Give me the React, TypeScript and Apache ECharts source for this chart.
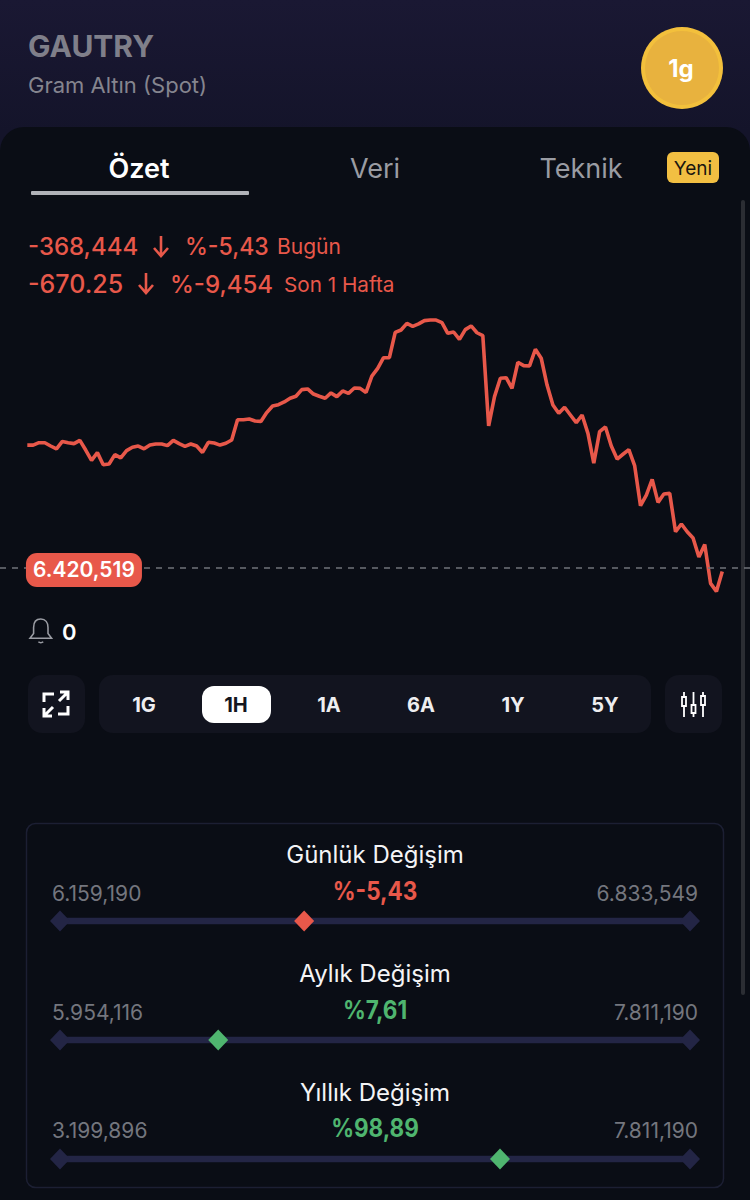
import { useEffect, useRef } from 'react'
import * as echarts from 'echarts'

// fiyat serisi, TL (son 1 hafta)
const prices = [
  7090, 7090, 7103, 7103, 7085, 7069, 7110, 7103, 7098, 7116,
  7063, 7007, 7049, 6983, 6987, 7038, 7020, 7060, 7078, 7085,
  7070, 7090, 7096, 7096, 7087, 7116, 7098, 7083, 7096, 7085,
  7050, 7105, 7101, 7090, 7100, 7118, 7228, 7228, 7232, 7221,
  7219, 7267, 7303, 7310, 7325, 7345, 7356, 7392, 7396, 7368,
  7356, 7345, 7374, 7354, 7385, 7372, 7401, 7399, 7377, 7466,
  7508, 7566, 7566, 7704, 7717, 7753, 7737, 7750, 7768, 7771,
  7771, 7757, 7699, 7706, 7666, 7719, 7739, 7702, 7686, 7195,
  7354, 7454, 7457, 7399, 7541, 7523, 7521, 7612, 7563, 7417,
  7308, 7263, 7296, 7254, 7212, 7254, 7154, 6991, 7163, 7189,
  7085, 7014, 7040, 7065, 6978, 6760, 6818, 6903, 6778, 6824,
  6827, 6618, 6660, 6618, 6584, 6480, 6549, 6337, 6293, 6402,
]
const lastPrice = 6420.519
const lastPriceLabel = '6.420,519'

const periods = ['1G', '1H', '1A', '6A', '1Y', '5Y']
const periodCenters = [144, 236, 329, 421, 513, 605]

const rangeTitles = ['Günlük Değişim', 'Aylık Değişim', 'Yıllık Değişim']
const rangeLows = [6159.19, 5954.116, 3199.896]
const rangeHighs = [6833.549, 7811.19, 7811.19]
const rangeLowLabels = ['6.159,190', '5.954,116', '3.199,896']
const rangeHighLabels = ['6.833,549', '7.811,190', '7.811,190']
const rangeChanges = ['%-5,43', '%7,61', '%98,89']

const RED = '#e8584a'
const GREEN = '#4fb56f'
const FONT = 'Inter'

const iconPaths: Record<string, string> = {
  bellIcon: 'M12 2C8 2 6 5 6 9V14L3 18H21L18 14V9C18 5 16 2 12 2ZM10 21C11 22 13 22 14 21',
  expandIcon: 'M2 12V4H12M26 2L17 11M18 2H26V10M2 26L11 17M2 18V26H10M26 16V24H16',
  slidersIcon: 'M3 0V5M1 5H5V14H1ZM3 14V25M12.5 0V13M10.5 13H14.5V21H10.5ZM12.5 21V25M22 0V4M20 4H24V13H20ZM22 13V25',
  arrowIcon: 'M8 0V20M1 12L8 20L15 12',
}
Object.keys(iconPaths).forEach((name) => {
  echarts.graphic.registerShape(name, (echarts.graphic as any).extendPath(iconPaths[name], {}))
})

const text = (
  x: number,
  y: number,
  value: string,
  size: number,
  fill: string,
  weight = 400,
  align = 'left',
  scaleX = 1,
) => ({
  type: 'text',
  x,
  y,
  scaleX,
  style: { text: value, fontFamily: FONT, fontSize: size, fontWeight: weight, fill, align, verticalAlign: 'middle' },
})

const rect = (x: number, y: number, width: number, height: number, r: number, fill: any, extra: any = {}) => ({
  type: 'rect',
  shape: { x, y, width, height, r },
  style: { fill, ...extra },
})

const icon = (type: string, x: number, y: number, scale: number, stroke: string, lineWidth: number) => ({
  type,
  x,
  y,
  scaleX: scale,
  scaleY: scale,
  style: { fill: 'none', stroke, lineWidth },
})

const rangeTop = [854, 973, 1092]
const rangeNum = [893, 1012, 1130]
const rangePct = [891, 1010, 1128]
const rangeTrack = [921, 1040, 1159]

export default function App() {
  const chartRef = useRef<HTMLDivElement>(null)

  useEffect(() => {
    if (!chartRef.current) return
    document.body.style.margin = '0'

    const chart = echarts.init(chartRef.current, undefined, { renderer: 'svg' })

    const graphics: any[] = [
      rect(0, 0, 750, 1200, 0, {
        type: 'linear', x: 0, y: 0, x2: 0, y2: 0.11,
        colorStops: [{ offset: 0, color: '#1a1833' }, { offset: 1, color: '#14142a' }],
      }),
      rect(0, 127, 750, 1100, 24, '#0a0d15'),
      text(28, 46, 'GAUTRY', 30, '#7f7f8a', 700),
      text(28, 85, 'Gram Altın (Spot)', 22, '#85858f'),
      { type: 'circle', shape: { cx: 682, cy: 68, r: 41 }, style: { fill: '#f3c03c' } },
      { type: 'circle', shape: { cx: 682, cy: 68, r: 37 }, style: { fill: '#e8b23e' } },
      text(681, 68, '1g', 24, '#ffffff', 700, 'center'),
      text(139, 168, 'Özet', 27, '#ffffff', 600, 'center'),
      text(375, 168, 'Veri', 27, '#9a9ca3', 400, 'center'),
      text(581, 168, 'Teknik', 27, '#9a9ca3', 400, 'center'),
      rect(667, 152, 52, 31, 6, '#f2bf42'),
      text(693, 168, 'Yeni', 19, '#1a1610', 400, 'center'),
      rect(31, 191, 218, 4, 1, '#b0b2b8'),
      rect(741, 200, 4, 795, 2, '#2b2d33'),
      text(28, 246, '-368,444', 24, RED, 500),
      icon('arrowIcon', 153, 236, 1, RED, 2.6),
      text(185, 246, '%-5,43', 24, RED, 500, 'left', 0.96),
      text(277, 246, 'Bugün', 21, RED),
      text(28, 284, '-670.25', 25, RED, 500),
      icon('arrowIcon', 138, 273, 1, RED, 2.6),
      text(170, 284, '%-9,454', 24, RED, 500),
      text(284, 284, 'Son 1 Hafta', 20.7, RED),
      icon('bellIcon', 26.4, 616.6, 1.2, '#9a9ca3', 1.3),
      text(62, 632, '0', 22, '#ffffff', 600),
      rect(28, 675, 57, 58, 14, '#12141f'),
      icon('expandIcon', 42, 690, 1, '#ffffff', 3),
      rect(99, 675, 552, 58, 14, '#12141f'),
      rect(202, 686, 69, 37, 12, '#ffffff'),
      rect(665, 675, 57, 58, 14, '#12141f'),
      icon('slidersIcon', 681, 692, 1, '#ffffff', 1.8),
      rect(26.5, 823.5, 697, 364, 9, 'none', { stroke: '#1c1f33', lineWidth: 1.5 }),
    ]

    periods.forEach((p, i) => {
      graphics.push(text(periodCenters[i], 705, p, 20, i === 1 ? '#14161f' : '#eeeef0', 700, 'center'))
    })

    rangeTitles.forEach((title, i) => {
      graphics.push(text(375, rangeTop[i], title, 24, '#f4f4f6', 400, 'center'))
      graphics.push(text(52, rangeNum[i], rangeLowLabels[i], 21, '#74767e'))
      graphics.push(text(698, rangeNum[i], rangeHighLabels[i], 21, '#74767e', 400, 'right'))
      graphics.push(text(375, rangePct[i], rangeChanges[i], 25, i === 0 ? RED : GREEN, 700, 'center', 0.9))
    })

    const hiddenValue = { show: false, scale: true, splitLine: { show: false } }

    const grids: any[] = [{ left: 0, top: 300, width: 750, height: 300 }]
    const xAxes: any[] = [{ ...hiddenValue, type: 'value', min: -4.675, max: 123.75 }]
    const yAxes: any[] = [{ ...hiddenValue, type: 'value', min: 6246.2, max: 7880.3 }]

    const series: any[] = [
      {
        type: 'line',
        data: prices.map((p, i) => [i, p]),
        symbol: 'none',
        lineStyle: { color: RED, width: 3.6 },
        markLine: {
          silent: true,
          symbol: 'none',
          label: { show: false },
          lineStyle: { color: '#70737a', width: 1.5, type: [6, 6] },
          data: [[{ coord: [-4.675, lastPrice] }, { coord: [123.75, lastPrice] }]],
        },
        markPoint: {
          silent: true,
          symbol: 'circle',
          symbolSize: 1,
          itemStyle: { color: RED },
          label: {
            show: true,
            position: 'inside',
            offset: [0, 2],
            formatter: lastPriceLabel,
            color: '#ffffff',
            fontFamily: FONT,
            fontSize: 21,
            fontWeight: 600,
            backgroundColor: RED,
            borderRadius: 11,
            width: 116,
            height: 34,
            lineHeight: 34,
            align: 'center',
            verticalAlign: 'middle',
          },
          data: [{ coord: [9.7, lastPrice] }],
        },
      },
    ]

    rangeTitles.forEach((_, i) => {
      const idx = i + 1
      grids.push({ left: 60, width: 630, top: rangeTrack[i] - 10, height: 20 })
      xAxes.push({ ...hiddenValue, type: 'value', gridIndex: idx, min: rangeLows[i], max: rangeHighs[i] })
      yAxes.push({ ...hiddenValue, type: 'value', gridIndex: idx, min: -1, max: 1 })
      series.push({
        type: 'line',
        xAxisIndex: idx,
        yAxisIndex: idx,
        data: [[rangeLows[i], 0], [rangeHighs[i], 0]],
        symbol: 'diamond',
        symbolSize: [20, 21],
        showSymbol: true,
        clip: false,
        itemStyle: { color: '#232545', opacity: 1 },
        lineStyle: { color: '#232545', width: 6.5 },
      })
      series.push({
        type: 'scatter',
        xAxisIndex: idx,
        yAxisIndex: idx,
        data: [[lastPrice, 0]],
        symbol: 'diamond',
        symbolSize: [20, 21],
        clip: false,
        z: 5,
        itemStyle: { color: i === 0 ? RED : GREEN, opacity: 1 },
      })
    })

    chart.setOption({
      animation: false,
      grid: grids,
      xAxis: xAxes,
      yAxis: yAxes,
      graphic: { elements: graphics },
      series,
    })

    return () => {
      chart.dispose()
    }
  }, [])

  return <div ref={chartRef} style={{ width: 750, height: 1200 }}></div>
}
